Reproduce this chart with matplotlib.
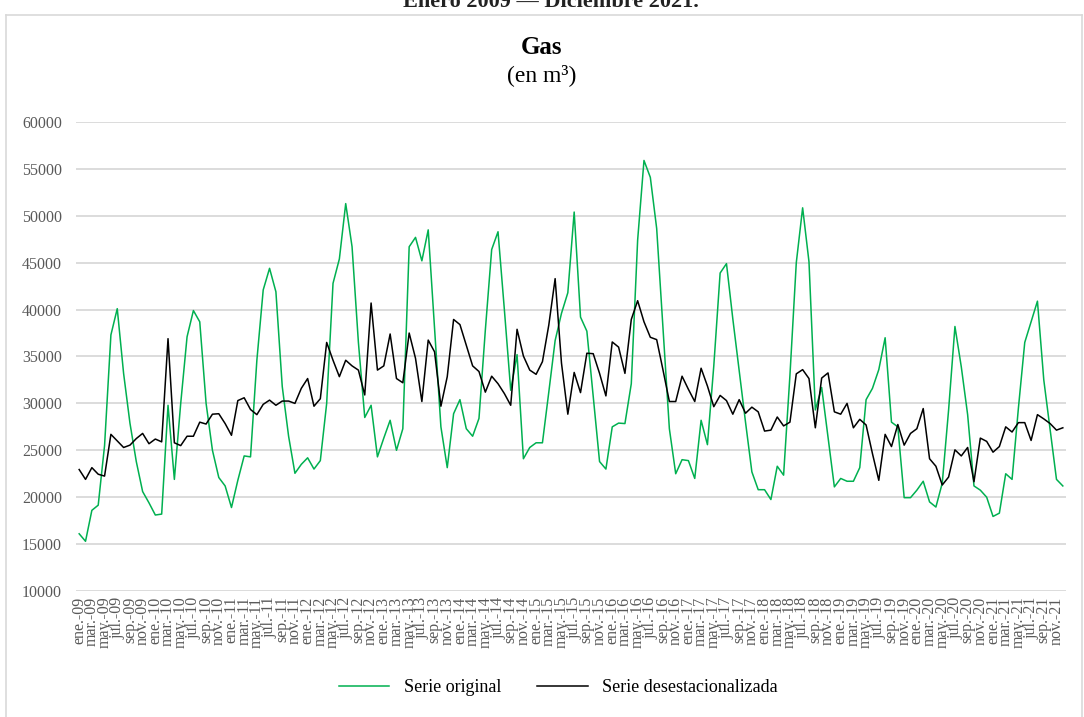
import matplotlib
matplotlib.use('Agg')
import matplotlib.pyplot as plt
from matplotlib.lines import Line2D

plt.rcParams['font.family'] = ['Liberation Serif', 'DejaVu Serif']

months = ['ene.', 'feb.', 'mar.', 'abr.', 'may.', 'jun.', 'jul.', 'ago.', 'sep.', 'oct.', 'nov.', 'dic.']
years = list(range(2009, 2022))
categories = [f"{m}-{y % 100:02d}" for y in years for m in months]

serie_original = [
    16100, 15300, 18600, 19150, 25500, 37300, 40100, 33200, 27900, 23800, 20600, 19400,
    18100, 18200, 29800, 21900, 30000, 37100, 39900, 38700, 30000, 25000, 22100, 21200,
    18900, 21800, 24400, 24300, 34600, 42100, 44400, 41900, 31800, 26500, 22550, 23500,
    24200, 23000, 23900, 30000, 42800, 45400, 51300, 46700, 36500, 28500, 29800, 24300,
    26300, 28200, 25000, 27300, 46700, 47700, 45200, 48500, 38000, 27500, 23150, 28900,
    30400, 27300, 26500, 28400, 37800, 46400, 48300, 40000, 31400, 35200, 24100, 25300,
    25800, 25800, 31200, 36700, 39600, 41800, 50400, 39200, 37700, 30700, 23800, 23000,
    27500, 27900, 27850, 32100, 47400, 55900, 54100, 48650, 38000, 27300, 22500, 24000,
    23900, 22000, 28200, 25600, 34000, 43900, 44900, 39000, 33500, 28000, 22700, 20800,
    20800, 19750, 23300, 22350, 33000, 45000, 50850, 45100, 29300, 31700, 26400, 21100,
    22000, 21700, 21700, 23150, 30400, 31600, 33600, 37000, 28000, 27500, 19950, 19950,
    20750, 21700, 19500, 18950, 21500, 29300, 38200, 33900, 28800, 21200, 20750, 20000,
    17950, 18300, 22500, 21900, 29500, 36500, 38700, 40900, 32500, 27200, 21900, 21200,
]

serie_desestacionalizada = [
    22950, 21900, 23150, 22450, 22250, 26700, 26000, 25300, 25550, 26250, 26800, 25700,
    26200, 25900, 36900, 25800, 25500, 26500, 26500, 28000, 27800, 28850, 28900, 27850,
    26600, 30300, 30600, 29350, 28800, 29900, 30350, 29800, 30250, 30250, 30000, 31600,
    32650, 29700, 30500, 36500, 34600, 32850, 34600, 34000, 33550, 30900, 40700, 33550,
    34000, 37400, 32650, 32200, 37500, 34800, 30200, 36750, 35500, 29700, 32850, 38950,
    38400, 36200, 34000, 33400, 31200, 32900, 32100, 31050, 29800, 37900, 35050, 33550,
    33100, 34450, 38350, 43300, 34300, 28850, 33300, 31150, 35350, 35300, 33200, 30800,
    36550, 36000, 33200, 38950, 40950, 38700, 37050, 36800, 33550, 30200, 30200, 32900,
    31500, 30200, 33750, 31850, 29650, 30850, 30300, 28850, 30400, 28950, 29600, 29100,
    27050, 27150, 28550, 27600, 28000, 33150, 33600, 32650, 27400, 32700, 33250, 29100,
    28850, 30000, 27400, 28300, 27700, 24650, 21800, 26700, 25400, 27750, 25550, 26800,
    27300, 29450, 24100, 23300, 21300, 22150, 25050, 24400, 25300, 21650, 26300, 25950,
    24800, 25400, 27500, 26950, 27950, 27950, 26050, 28800, 28350, 27850, 27150, 27400,
]

y_ticks = list(range(10000, 60001, 5000))

W, H = 1084, 717
fig = plt.figure(figsize=(W / 100, H / 100), dpi=100)

# outer chart border (bottom edge lies outside the picture)
bc = '#d9d9d9'
fig.add_artist(Line2D([6 / W, 6 / W], [0, 1 - 15 / H], color=bc, lw=1.2, transform=fig.transFigure))
fig.add_artist(Line2D([6 / W, 1082 / W], [1 - 15 / H, 1 - 15 / H], color=bc, lw=1.2, transform=fig.transFigure))
fig.add_artist(Line2D([1082 / W, 1082 / W], [0, 1 - 15 / H], color=bc, lw=1.2, transform=fig.transFigure))

left, right = 76 / W, 1066 / W
bottom, top = 1 - 591 / H, 1 - 122 / H
ax = fig.add_axes([left, bottom, right - left, top - bottom])

x = list(range(len(categories)))
ax.plot(x, serie_original, color='#00b050', lw=1.1, label='Serie original')
ax.plot(x, serie_desestacionalizada, color='black', lw=1.1, label='Serie desestacionalizada')

ax.set_xlim(-0.5, len(categories) - 0.5)
ax.set_ylim(10000, 60000)
ax.set_yticks(y_ticks)
ax.set_yticklabels([str(v) for v in y_ticks])
ax.set_xticks(x[::2])
ax.set_xticklabels(categories[::2], rotation=90)
ax.grid(axis='y', color='#d9d9d9', lw=1.3)
ax.set_axisbelow(True)
for s in ax.spines.values():
    s.set_visible(False)
ax.tick_params(length=0, colors='#595959', labelsize=11.5)
ax.tick_params(axis='y', pad=10)
ax.tick_params(axis='x', pad=4)

fig.text(0.508, 1 - 7 / H, 'Enero 2009 — Diciembre 2021.', ha='center', va='baseline',
         fontsize=16, fontweight='bold', color='#222222')
fig.text(0.5, 1 - 47 / H, 'Gas', ha='center', va='center', fontsize=18, fontweight='bold')
fig.text(0.5, 1 - 75 / H, '(en m³)', ha='center', va='center', fontsize=17)

fig.legend(loc='center', bbox_to_anchor=(0.515, 1 - 688 / H), ncol=2, frameon=False,
           fontsize=13, handlelength=2.8, columnspacing=2.0)

fig.savefig('out.png', dpi=100)
